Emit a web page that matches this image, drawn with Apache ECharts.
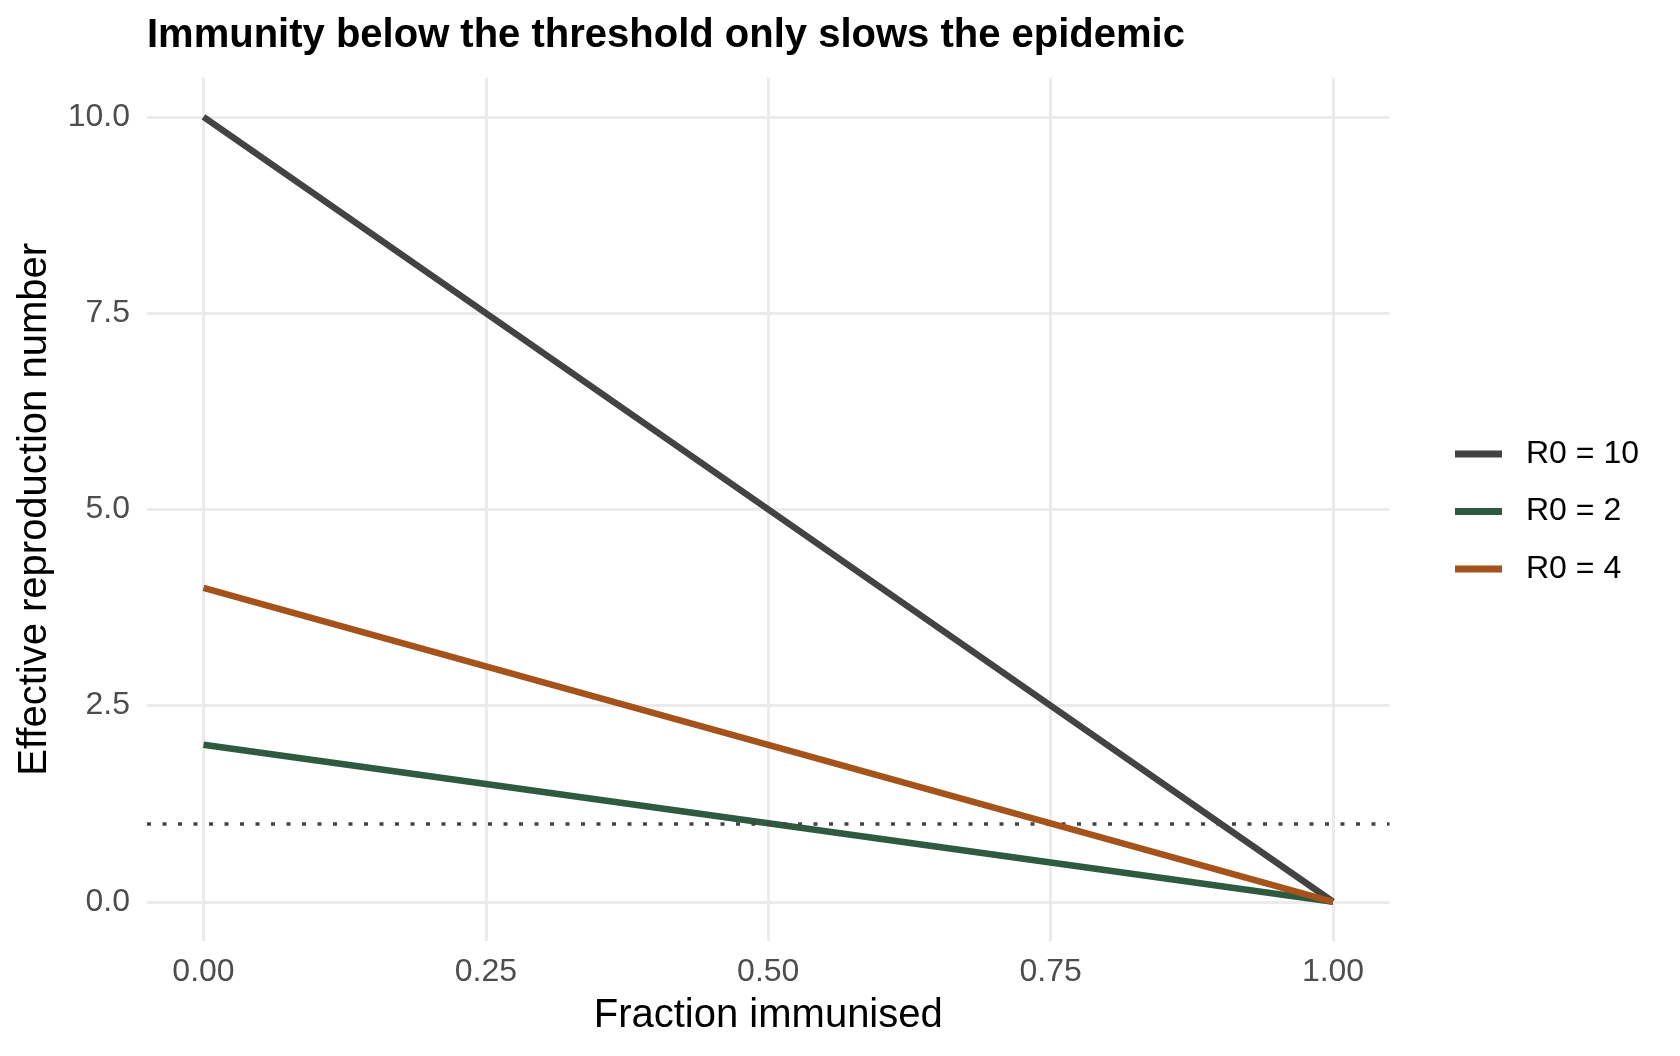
<!DOCTYPE html>
<html>
<head>
<meta charset="utf-8">
<script src="https://cdn.jsdelivr.net/npm/echarts@6/dist/echarts.min.js"></script>
<style>
    html, body { margin: 0; padding: 0; background: #fff; }
    #chart { width: 1680px; height: 1056px; }
</style>
</head>
<body>
<div id="chart"></div>
<script>
    // 数据：横轴为免疫比例，三条线分别对应不同的 R0
    const fraction = [0, 0.25, 0.5, 0.75, 1]
    const r10 = [10, 7.5, 5, 2.5, 0]
    const r2 = [2, 1.5, 1, 0.5, 0]
    const r4 = [4, 3, 2, 1, 0]
    const seriesNames = ['R0 = 10', 'R0 = 2', 'R0 = 4']
    const colors = ['#434343', '#2e5b3f', '#a5521b']
    const xTicks = [0, 0.25, 0.5, 0.75, 1]
    const yTicks = [0, 2.5, 5, 7.5, 10]
    const threshold = 1

    const font = 'Liberation Sans, Arial, Helvetica, sans-serif'
    const chart = echarts.init(document.querySelector('#chart'))

    const toPairs = ys => fraction.map((x, i) => [x, ys[i]])
    const lineSeries = [r10, r2, r4].map((ys, idx) => ({
        name: seriesNames[idx],
        type: 'line',
        data: toPairs(ys),
        showSymbol: false,
        lineStyle: { width: 6.5, color: colors[idx] },
        itemStyle: { color: colors[idx] },
        z: 3 + idx
    }))

    // 阈值虚线
    lineSeries[0].markLine = {
        silent: true,
        symbol: 'none',
        label: { show: false },
        lineStyle: { color: '#444', width: 3.5, type: [4, 11.5] },
        data: [{ yAxis: threshold }]
    }

    const gridLine = { show: true, lineStyle: { color: '#ebebeb', width: 3 } }

    const option = {
        animation: false,
        backgroundColor: '#fff',
        title: {
            text: 'Immunity below the threshold only slows the epidemic',
            left: 147,
            top: 16,
            padding: 0,
            textStyle: { fontFamily: font, fontSize: 40, fontWeight: 'bold', color: '#000' }
        },
        legend: {
            orient: 'vertical',
            left: 1455,
            top: 438,
            padding: 0,
            itemWidth: 47,
            itemHeight: 7,
            itemGap: 25.5,
            icon: 'rect',
            data: seriesNames,
            textStyle: { fontFamily: font, fontSize: 32, lineHeight: 32, color: '#000', padding: [0, 0, 0, 19] }
        },
        grid: { left: 147, right: 290.5, top: 77.7, bottom: 115, containLabel: false },
        xAxis: {
            type: 'value',
            min: -0.05,
            max: 1.05,
            name: 'Fraction immunised',
            nameLocation: 'middle',
            nameGap: 55,
            nameTextStyle: { fontFamily: font, fontSize: 40, color: '#000' },
            axisLine: { show: false },
            axisTick: { show: false, customValues: xTicks },
            axisLabel: {
                customValues: xTicks,
                margin: 15,
                fontFamily: font,
                fontSize: 32,
                color: '#4d4d4d',
                formatter: v => v.toFixed(2)
            },
            splitLine: gridLine
        },
        yAxis: {
            type: 'value',
            min: -0.5,
            max: 10.5,
            name: 'Effective reproduction number',
            nameLocation: 'middle',
            nameGap: 92,
            nameTextStyle: { fontFamily: font, fontSize: 40, color: '#000' },
            axisLine: { show: false },
            axisTick: { show: false, customValues: yTicks },
            axisLabel: {
                customValues: yTicks,
                margin: 17,
                fontFamily: font,
                fontSize: 32,
                color: '#4d4d4d',
                formatter: v => v.toFixed(1)
            },
            splitLine: gridLine
        },
        series: lineSeries
    }
    chart.setOption(option)
</script>
</body>
</html>
